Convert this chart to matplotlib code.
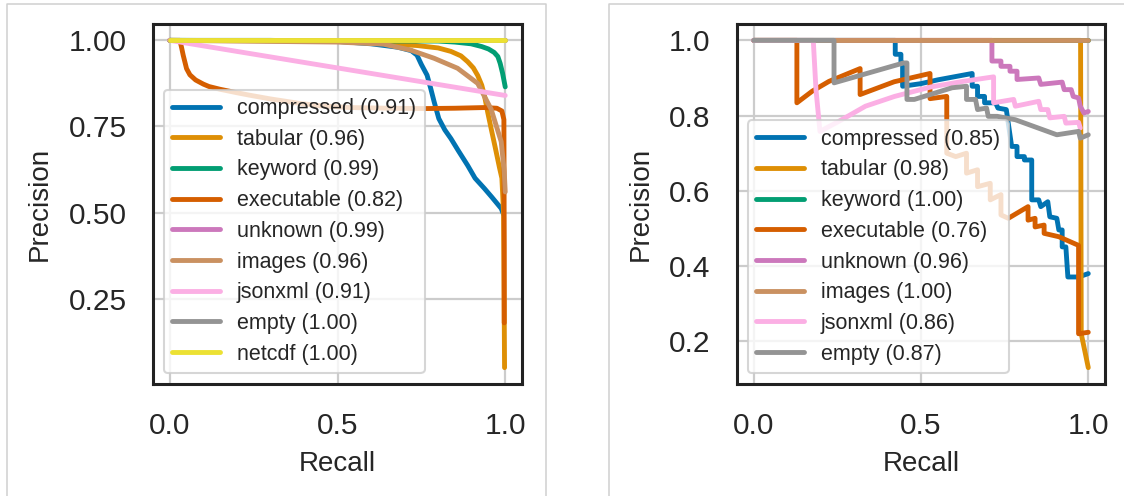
import matplotlib
matplotlib.use("Agg")
import matplotlib.pyplot as plt
from matplotlib.lines import Line2D

plt.rcParams['font.family'] = ['Liberation Sans', 'DejaVu Sans']

# ---------------- data ----------------
colors = ['#0173B2', '#DE8F05', '#029E73', '#D55E00', '#CC78BC',
          '#CA9161', '#FBAFE4', '#949494', '#ECE133']

x_ticks = [0.0, 0.5, 1.0]
x_tick_labels = ['0.0', '0.5', '1.0']
left_y_ticks = [0.25, 0.50, 0.75, 1.00]
left_y_tick_labels = ['0.25', '0.50', '0.75', '1.00']
right_y_ticks = [0.2, 0.4, 0.6, 0.8, 1.0]
right_y_tick_labels = ['0.2', '0.4', '0.6', '0.8', '1.0']

# Left panel
left_names = ['compressed', 'tabular', 'keyword', 'executable', 'unknown',
              'images', 'jsonxml', 'empty', 'netcdf']
left_ap = [0.91, 0.96, 0.99, 0.82, 0.99, 0.96, 0.91, 1.00, 1.00]

L_compressed_r = [0, 0.3, 0.5, 0.6, 0.68, 0.72, 0.737, 0.75, 0.767, 0.778, 0.788,
                  0.802, 0.82, 0.838, 0.86, 0.888, 0.91, 0.938, 0.96, 0.988, 0.995]
L_compressed_p = [1.0, 1.0, 0.997, 0.99, 0.98, 0.97, 0.957, 0.93, 0.899, 0.86, 0.822,
                  0.773, 0.74, 0.715, 0.68, 0.637, 0.60, 0.57, 0.545, 0.512, 0.495]
L_tabular_r = [0, 0.5, 0.65, 0.737, 0.8, 0.838, 0.868, 0.888, 0.905, 0.918, 0.93,
               0.938, 0.948, 0.958, 0.97, 0.983, 0.99, 0.995, 0.997, 0.998]
L_tabular_p = [1.0, 0.998, 0.99, 0.985, 0.978, 0.968, 0.955, 0.938, 0.92, 0.898, 0.87,
               0.84, 0.79, 0.744, 0.69, 0.63, 0.60, 0.50, 0.20, 0.05]
L_keyword_r = [0, 0.8, 0.85, 0.898, 0.93, 0.95, 0.967, 0.978, 0.985, 0.992, 0.997, 1.0]
L_keyword_p = [1.0, 0.998, 0.995, 0.99, 0.982, 0.975, 0.965, 0.953, 0.933, 0.905, 0.88, 0.865]
L_executable_r = [0, 0.03, 0.035, 0.04, 0.05, 0.06, 0.077, 0.1, 0.117, 0.15, 0.2, 0.237,
                  0.3, 0.387, 0.45, 0.537, 0.65, 0.757, 0.85, 0.938, 0.975, 0.99,
                  0.996, 0.997, 0.997]
L_executable_p = [1.0, 1.0, 0.98, 0.957, 0.918, 0.9, 0.885, 0.873, 0.866, 0.858, 0.848,
                  0.841, 0.83, 0.817, 0.81, 0.805, 0.803, 0.802, 0.803, 0.805, 0.803,
                  0.795, 0.77, 0.4, 0.18]
L_unknown_r = [0, 1.0]
L_unknown_p = [1.0, 1.0]
L_images_r = [0, 0.5, 0.637, 0.717, 0.788, 0.858, 0.918, 0.958, 0.988, 0.997, 1.0]
L_images_p = [1.0, 0.995, 0.989, 0.972, 0.948, 0.919, 0.875, 0.80, 0.706, 0.62, 0.56]
L_jsonxml_r = [0, 1.0]
L_jsonxml_p = [1.0, 0.84]
L_empty_r = [0, 1.0]
L_empty_p = [1.0, 1.0]
L_netcdf_r = [0, 1.0]
L_netcdf_p = [1.0, 1.0]

# Right panel
right_names = ['compressed', 'tabular', 'keyword', 'executable', 'unknown',
               'images', 'jsonxml', 'empty']
right_ap = [0.85, 0.98, 1.00, 0.76, 0.96, 1.00, 0.86, 0.87]

R_compressed_r = [0, 0.423, 0.423, 0.44, 0.44, 0.445, 0.445, 0.5, 0.55, 0.653, 0.653,
                  0.669, 0.669, 0.69, 0.69, 0.723, 0.73, 0.755, 0.771, 0.787, 0.787,
                  0.809, 0.809, 0.831, 0.831, 0.852, 0.858, 0.879, 0.885, 0.906, 0.912,
                  0.922, 0.922, 0.933, 0.939, 0.971, 1.0]
R_compressed_p = [1.0, 1.0, 0.963, 0.963, 0.94, 0.94, 0.878, 0.885, 0.895, 0.912, 0.878,
                  0.878, 0.851, 0.851, 0.834, 0.834, 0.82, 0.816, 0.718, 0.718, 0.691,
                  0.691, 0.682, 0.682, 0.576, 0.576, 0.558, 0.571, 0.531, 0.527, 0.496,
                  0.496, 0.451, 0.451, 0.371, 0.371, 0.38]
R_tabular_r = [0, 0.977, 0.979, 1.0]
R_tabular_p = [1.0, 1.0, 0.22, 0.13]
R_keyword_r = [0, 1.0]
R_keyword_p = [1.0, 1.0]
R_executable_r = [0, 0.129, 0.129, 0.175, 0.225, 0.318, 0.318, 0.42, 0.527, 0.527,
                  0.577, 0.577, 0.604, 0.636, 0.636, 0.669, 0.669, 0.707, 0.707, 0.739,
                  0.739, 0.761, 0.82, 0.82, 0.841, 0.841, 0.868, 0.868, 0.912, 0.971,
                  0.971, 1.0]
R_executable_p = [1.0, 1.0, 0.834, 0.865, 0.891, 0.925, 0.856, 0.89, 0.912, 0.845,
                  0.851, 0.70, 0.691, 0.70, 0.647, 0.656, 0.611, 0.62, 0.576, 0.59,
                  0.536, 0.527, 0.558, 0.522, 0.527, 0.504, 0.509, 0.487, 0.478, 0.455,
                  0.22, 0.224]
R_unknown_r = [0, 0.712, 0.712, 0.739, 0.739, 0.766, 0.766, 0.787, 0.787, 0.852, 0.858,
               0.922, 0.928, 0.949, 0.955, 0.971, 0.976, 0.987, 1.0]
R_unknown_p = [1.0, 1.0, 0.945, 0.945, 0.931, 0.931, 0.918, 0.918, 0.896, 0.90, 0.883,
               0.889, 0.869, 0.869, 0.851, 0.847, 0.825, 0.807, 0.811]
R_images_r = [0, 1.0]
R_images_p = [1.0, 1.0]
R_jsonxml_r = [0, 0.178, 0.186, 0.198, 0.259, 0.334, 0.421, 0.529, 0.626, 0.717, 0.717,
               0.777, 0.782, 0.852, 0.858, 0.879, 0.885, 0.928, 0.933, 0.971, 0.976]
R_jsonxml_p = [1.0, 1.0, 0.87, 0.758, 0.787, 0.825, 0.851, 0.876, 0.891, 0.903, 0.834,
               0.843, 0.825, 0.838, 0.816, 0.816, 0.794, 0.798, 0.78, 0.782, 0.767]
R_empty_r = [0, 0.24, 0.24, 0.448, 0.458, 0.458, 0.48, 0.593, 0.636, 0.636, 0.663,
             0.669, 0.696, 0.701, 0.728, 0.782, 0.906, 0.971, 0.976, 1.0]
R_empty_p = [1.0, 1.0, 0.887, 0.94, 0.94, 0.843, 0.843, 0.874, 0.878, 0.843, 0.843,
             0.816, 0.82, 0.798, 0.798, 0.789, 0.749, 0.758, 0.740, 0.749]

left_curves = [(L_compressed_r, L_compressed_p), (L_tabular_r, L_tabular_p),
               (L_keyword_r, L_keyword_p), (L_executable_r, L_executable_p),
               (L_unknown_r, L_unknown_p), (L_images_r, L_images_p),
               (L_jsonxml_r, L_jsonxml_p), (L_empty_r, L_empty_p),
               (L_netcdf_r, L_netcdf_p)]
right_curves = [(R_compressed_r, R_compressed_p), (R_tabular_r, R_tabular_p),
                (R_keyword_r, R_keyword_p), (R_executable_r, R_executable_p),
                (R_unknown_r, R_unknown_p), (R_images_r, R_images_p),
                (R_jsonxml_r, R_jsonxml_p), (R_empty_r, R_empty_p)]

# ---------------- figure ----------------
W, H = 1124, 496
fig = plt.figure(figsize=(W / 100, H / 100), dpi=100)

border_col = '#d0d0d0'
fig.add_artist(Line2D([7 / W, 7 / W, 546 / W, 546 / W], [0, 1 - 4 / H, 1 - 4 / H, 0],
                      transform=fig.transFigure, color=border_col, lw=1.1))
fig.add_artist(Line2D([609 / W, 609 / W, 1.0], [0, 1 - 4 / H, 1 - 4 / H],
                      transform=fig.transFigure, color=border_col, lw=1.1))

ax_l = fig.add_axes([153 / W, 112 / H, 369 / W, 360 / H])
ax_r = fig.add_axes([737 / W, 112 / H, 368 / W, 360 / H])


def draw(ax, names, aps, curves, yt, ytl):
    ax.set_facecolor('white')
    ax.grid(True, color='#cccccc', lw=1.6, zorder=0)
    ax.set_axisbelow(True)
    for i, (name, ap, (r, p)) in enumerate(zip(names, aps, curves)):
        ax.plot(r, p, color=colors[i], lw=3.5, label=f'{name} ({ap:.2f})',
                solid_joinstyle='round', solid_capstyle='round')
    ax.set_xlim(-0.05, 1.05)
    ax.set_xticks(x_ticks)
    ax.set_xticklabels(x_tick_labels)
    ax.set_yticks(yt)
    ax.set_yticklabels(ytl)
    for s in ax.spines.values():
        s.set_color('#222222')
        s.set_linewidth(2.2)
    ax.tick_params(axis='both', length=0, labelsize=21.5, labelcolor='#262626')
    ax.tick_params(axis='x', pad=20)
    ax.tick_params(axis='y', pad=19)
    ax.set_xlabel('Recall', fontsize=20, color='#262626', labelpad=8)
    ax.set_ylabel('Precision', fontsize=20, color='#262626', labelpad=11)
    leg = ax.legend(loc='lower left', fontsize=15.5, framealpha=0.8,
                    edgecolor='#cccccc', handlelength=2.2, labelspacing=0.45,
                    borderaxespad=0.5)
    leg.get_frame().set_linewidth(1.5)
    for t in leg.get_texts():
        t.set_color('#262626')


draw(ax_l, left_names, left_ap, left_curves, left_y_ticks, left_y_tick_labels)
draw(ax_r, right_names, right_ap, right_curves, right_y_ticks, right_y_tick_labels)

fig.savefig('out.png', dpi=100)
